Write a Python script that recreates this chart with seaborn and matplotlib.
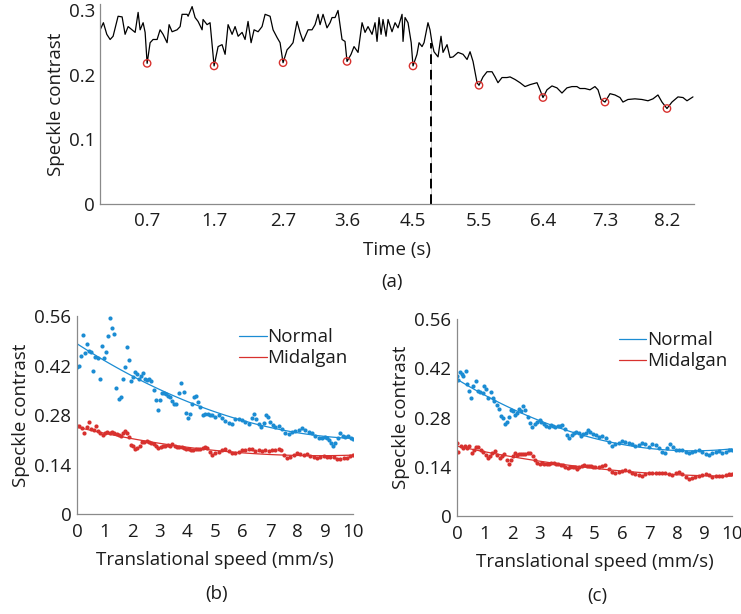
import matplotlib
matplotlib.use("Agg")
import matplotlib.pyplot as plt
import seaborn as sns
import pandas as pd

# ---------------- data: panel (a) ----------------
time_s = [0.022,0.069,0.118,0.166,0.209,0.281,0.339,0.382,0.426,0.483,
          0.527,0.570,0.599,0.642,0.671,0.700,0.743,0.786,0.844,0.887,
          0.930,0.988,1.017,1.060,1.132,1.176,1.204,1.277,1.291,1.349,
          1.392,1.435,1.493,1.507,1.565,1.608,1.666,1.724,1.781,1.825,
          1.868,1.926,1.969,2.013,2.070,2.113,2.156,2.200,2.243,2.301,
          2.358,2.402,2.474,2.517,2.575,2.618,2.661,2.719,2.762,2.805,
          2.863,2.906,2.950,3.022,3.079,3.123,3.166,3.195,3.238,3.295,
          3.339,3.368,3.411,3.454,3.512,3.555,3.584,3.642,3.685,3.743,
          3.801,3.844,3.887,3.945,3.988,4.017,4.046,4.075,4.103,4.147,
          4.176,4.233,4.277,4.320,4.378,4.392,4.421,4.464,4.510,4.536,
          4.593,4.623,4.666,4.695,4.752,4.781,4.810,4.839,4.897,4.940,
          4.969,5.027,5.070,5.114,5.186,5.258,5.316,5.359,5.402,5.460,
          5.488,5.546,5.604,5.676,5.719,5.762,5.820,5.892,5.936,6.008,
          6.080,6.152,6.224,6.325,6.368,6.411,6.469,6.541,6.613,6.685,
          6.757,6.829,6.901,6.945,7.017,7.089,7.161,7.205,7.248,7.306,
          7.378,7.450,7.522,7.565,7.637,7.738,7.839,7.926,7.998,8.070,
          8.128,8.200,8.272,8.359,8.431,8.489,8.532,8.575]
contrast_a = [0.270,0.281,0.263,0.255,0.260,0.291,0.290,0.263,0.275,0.270,
              0.266,0.297,0.270,0.281,0.266,0.218,0.250,0.255,0.255,0.270,
              0.263,0.250,0.278,0.267,0.270,0.275,0.294,0.294,0.291,0.306,
              0.289,0.283,0.270,0.286,0.278,0.281,0.214,0.244,0.247,0.232,
              0.278,0.263,0.275,0.260,0.266,0.255,0.283,0.250,0.270,0.267,
              0.275,0.294,0.291,0.270,0.258,0.250,0.219,0.239,0.244,0.250,
              0.283,0.266,0.252,0.270,0.270,0.278,0.294,0.278,0.294,0.273,
              0.281,0.289,0.289,0.300,0.255,0.252,0.221,0.232,0.244,0.235,
              0.281,0.266,0.275,0.263,0.281,0.252,0.289,0.263,0.286,0.260,
              0.286,0.267,0.281,0.273,0.294,0.252,0.289,0.281,0.250,0.214,
              0.232,0.250,0.244,0.250,0.281,0.270,0.250,0.236,0.228,0.260,
              0.235,0.247,0.227,0.228,0.235,0.232,0.224,0.236,0.221,0.188,
              0.184,0.197,0.205,0.205,0.197,0.188,0.196,0.196,0.197,0.193,
              0.188,0.182,0.185,0.188,0.177,0.165,0.177,0.183,0.180,0.172,
              0.180,0.182,0.182,0.179,0.179,0.177,0.182,0.177,0.162,0.158,
              0.171,0.169,0.165,0.158,0.162,0.163,0.162,0.160,0.163,0.169,
              0.158,0.148,0.158,0.166,0.165,0.160,0.163,0.166]
minima_t = [0.700, 1.666, 2.661, 3.584, 4.536, 5.488, 6.411, 7.306, 8.200]
minima_v = [0.218, 0.214, 0.219, 0.221, 0.214, 0.184, 0.165, 0.158, 0.148]
minima_labels = ["0.7", "1.7", "2.7", "3.6", "4.5", "5.5", "6.4", "7.3", "8.2"]
dash_t = 4.796
dash_top = 0.25
yticks_a = [0, 0.1, 0.2, 0.3]
yticklabels_a = ["0", "0.1", "0.2", "0.3"]

# ---------------- data: panel (b) ----------------
b_normal_x = [0.00,0.06,0.145,0.22,0.28,0.37,0.45,0.52,0.59,0.66,
              0.75,0.83,0.91,0.98,1.05,1.12,1.20,1.28,1.35,1.42,
              1.51,1.58,1.66,1.74,1.81,1.88,1.96,2.04,2.11,2.18,
              2.26,2.33,2.40,2.47,2.55,2.62,2.69,2.79,2.86,2.93,
              3.02,3.09,3.16,3.24,3.31,3.38,3.45,3.53,3.60,3.68,
              3.78,3.87,3.94,4.02,4.09,4.17,4.24,4.31,4.38,4.47,
              4.55,4.65,4.75,4.83,
              4.89,5.01,5.13,5.25,5.37,5.50,5.62,5.74,5.86,5.98,
              6.10,6.22,6.34,6.42,6.49,6.58,6.68,6.76,6.85,6.92,
              7.00,7.10,7.18,7.31,7.43,7.55,7.67,7.79,7.91,8.03,
              8.15,8.27,8.40,8.51,8.64,8.76,8.88,8.97,9.06,9.14,
              9.21,9.29,9.36,9.45,9.53,9.63,9.72,9.82,9.92,10.0]
b_normal_y = [0.417,0.419,0.448,0.505,0.454,0.480,0.461,0.459,0.405,0.443,
              0.442,0.381,0.475,0.440,0.457,0.503,0.553,0.526,0.510,0.357,
              0.325,0.330,0.381,0.415,0.473,0.435,0.377,0.388,0.402,0.396,
              0.383,0.390,0.398,0.381,0.379,0.381,0.377,0.350,0.323,0.295,
              0.323,0.343,0.341,0.339,0.334,0.331,0.320,0.312,0.311,0.341,
              0.370,0.345,0.287,0.271,0.282,0.311,0.331,0.335,0.316,0.304,
              0.279,0.284,0.283,0.280,
              0.280,0.275,0.280,0.271,0.264,0.258,0.254,0.268,0.269,0.266,
              0.260,0.255,0.272,0.282,0.268,0.254,0.247,0.256,0.280,0.275,
              0.261,0.252,0.247,0.249,0.240,0.228,0.226,0.233,0.236,0.238,
              0.242,0.238,0.233,0.228,0.221,0.214,0.214,0.219,0.216,0.209,
              0.200,0.191,0.202,0.214,0.230,0.221,0.217,0.221,0.214,0.211]
b_midalgan_x = [0.00,0.08,0.18,0.27,0.36,0.45,0.52,0.60,0.68,0.76,
                0.84,0.93,1.01,1.10,1.18,1.27,1.35,1.44,1.52,1.59,
                1.67,1.74,1.81,1.88,1.96,2.04,2.11,2.18,2.27,2.36,
                2.44,2.53,2.61,2.69,2.78,2.86,2.95,3.03,3.12,3.20,
                3.29,3.37,3.45,3.54,3.62,3.71,3.79,3.88,3.96,4.05,
                4.13,4.21,4.30,4.38,4.47,4.55,4.64,4.72,4.81,
                4.89,5.01,5.13,5.25,5.37,5.50,5.62,5.74,5.86,5.98,
                6.10,6.22,6.34,6.46,6.58,6.70,6.82,6.94,7.07,7.18,
                7.31,7.40,7.49,7.61,7.73,7.85,7.97,8.09,8.21,8.33,
                8.45,8.58,8.70,8.82,8.94,9.06,9.18,9.30,9.42,9.54,
                9.66,9.78,9.90,10.0]
b_midalgan_y = [0.249,0.249,0.243,0.230,0.245,0.261,0.240,0.238,0.250,0.234,
                0.228,0.223,0.230,0.231,0.228,0.233,0.230,0.225,0.224,0.221,
                0.228,0.236,0.230,0.219,0.195,0.191,0.183,0.186,0.193,0.204,
                0.204,0.206,0.204,0.200,0.197,0.192,0.187,0.190,0.193,0.193,
                0.195,0.193,0.197,0.193,0.190,0.190,0.189,0.187,0.184,0.184,
                0.182,0.182,0.184,0.183,0.184,0.187,0.189,0.186,0.175,
                0.167,0.172,0.176,0.181,0.183,0.179,0.173,0.172,0.176,0.181,
                0.181,0.183,0.183,0.179,0.181,0.179,0.181,0.178,0.181,0.181,
                0.184,0.181,0.167,0.158,0.160,0.167,0.172,0.170,0.167,0.170,
                0.164,0.160,0.159,0.162,0.164,0.160,0.162,0.160,0.156,0.155,
                0.158,0.159,0.164,0.167]

# ---------------- data: panel (c) ----------------
c_normal_x = [0.00,0.05,0.11,0.17,0.23,0.31,0.38,0.45,0.51,0.59,
              0.68,0.75,0.84,0.93,0.98,1.06,1.14,1.23,1.30,1.36,
              1.45,1.53,1.60,1.69,1.75,1.82,1.90,1.97,2.04,2.11,
              2.18,2.26,2.33,2.40,2.48,2.57,2.66,2.74,2.82,2.91,
              3.00,3.07,3.15,3.23,3.33,3.41,3.49,3.57,3.66,3.74,
              3.83,3.91,4.00,4.08,4.17,4.25,4.34,4.42,4.51,4.59,
              4.68,4.76,4.85,4.94,
              5.04,5.16,5.28,5.40,5.52,5.64,5.76,5.88,6.00,6.12,
              6.25,6.37,6.49,6.61,6.73,6.85,6.97,7.10,7.22,7.34,
              7.46,7.56,7.65,7.76,7.86,7.95,8.07,8.19,8.31,8.43,
              8.55,8.67,8.80,8.92,9.04,9.16,9.28,9.40,9.53,9.65,
              9.77,9.89,10.0]
c_normal_y = [0.398,0.387,0.408,0.403,0.398,0.413,0.376,0.356,0.336,0.370,
              0.384,0.356,0.352,0.349,0.370,0.362,0.335,0.352,0.335,0.328,
              0.316,0.304,0.284,0.278,0.261,0.267,0.282,0.301,0.298,0.287,
              0.294,0.303,0.298,0.313,0.301,0.281,0.265,0.254,0.261,0.268,
              0.273,0.268,0.261,0.256,0.254,0.259,0.257,0.254,0.256,0.257,
              0.259,0.246,0.230,0.221,0.230,0.237,0.240,0.237,0.227,0.233,
              0.235,0.244,0.240,0.233,
              0.230,0.224,0.227,0.221,0.211,0.199,0.204,0.208,0.214,0.211,
              0.208,0.204,0.199,0.202,0.208,0.204,0.197,0.206,0.202,0.192,
              0.182,0.178,0.192,0.204,0.197,0.187,0.189,0.187,0.182,0.180,
              0.182,0.185,0.189,0.182,0.176,0.173,0.178,0.182,0.185,0.180,
              0.182,0.189,0.187]
c_midalgan_x = [0.00,0.05,0.13,0.21,0.29,0.38,0.45,0.54,0.61,0.70,
                0.78,0.86,0.95,1.04,1.12,1.20,1.29,1.37,1.46,1.55,
                1.63,1.71,1.80,1.88,1.95,2.02,2.10,2.17,2.24,2.32,
                2.41,2.49,2.57,2.66,2.75,2.83,2.92,3.00,3.09,3.17,
                3.26,3.34,3.43,3.51,3.60,3.68,3.77,3.85,3.94,4.03,
                4.11,4.20,4.28,4.36,4.45,4.54,4.62,4.71,4.79,4.88,
                4.96,
                5.03,5.15,5.27,5.39,5.52,5.64,5.76,5.88,6.00,6.12,
                6.25,6.37,6.49,6.61,6.73,6.85,6.97,7.10,7.22,7.34,
                7.46,7.58,7.70,7.82,7.95,8.07,8.19,8.31,8.43,8.55,
                8.67,8.80,8.92,9.04,9.16,9.28,9.40,9.53,9.65,9.77,
                9.89,10.0]
c_midalgan_y = [0.208,0.182,0.199,0.192,0.199,0.192,0.199,0.180,0.187,0.195,
                0.197,0.187,0.182,0.173,0.166,0.170,0.180,0.185,0.173,0.166,
                0.170,0.176,0.159,0.149,0.159,0.170,0.178,0.173,0.176,0.176,
                0.176,0.176,0.178,0.180,0.170,0.159,0.151,0.149,0.151,0.147,
                0.149,0.147,0.151,0.151,0.149,0.147,0.145,0.144,0.140,0.137,
                0.140,0.138,0.138,0.134,0.138,0.142,0.144,0.143,0.142,0.141,
                0.140,
                0.140,0.140,0.142,0.145,0.135,0.125,0.122,0.125,0.128,0.130,
                0.127,0.123,0.119,0.116,0.113,0.119,0.121,0.121,0.123,0.121,
                0.123,0.121,0.119,0.116,0.121,0.125,0.119,0.111,0.104,0.107,
                0.111,0.113,0.116,0.119,0.116,0.111,0.113,0.115,0.113,0.116,
                0.119,0.119]
xticks_bc = list(range(0, 11))
yticks_bc = [0, 0.14, 0.28, 0.42, 0.56]
yticklabels_bc = ["0", "0.14", "0.28", "0.42", "0.56"]
series_names = ["Normal", "Midalgan"]

# ---------------- styling ----------------
BLUE = "#1b8cd3"
RED = "#d8312e"
SPINE = "#8a8a8a"
TEXT = "#1c1c1c"
FS = 13.5

sns.set_theme(style="white")
plt.rcParams["font.family"] = ["Open Sans", "DejaVu Sans"]

W, H = 741, 614
fig = plt.figure(figsize=(W / 100, H / 100), dpi=100)
ax_a = fig.add_axes([100 / W, 1 - 204 / H, 594 / W, 200 / H])
ax_b = fig.add_axes([77 / W, 1 - 514 / H, 276 / W, 198 / H])
ax_c = fig.add_axes([457 / W, 1 - 516 / H, 275 / W, 197 / H])


def style(ax, xpad, ypad):
    sns.despine(ax=ax)
    for s in ("left", "bottom"):
        ax.spines[s].set_color(SPINE)
        ax.spines[s].set_linewidth(0.9)
    ax.tick_params(axis="both", direction="in", length=4, width=0.8,
                   color=SPINE, labelcolor=TEXT, labelsize=FS)
    ax.tick_params(axis="x", pad=xpad)
    ax.tick_params(axis="y", pad=ypad)
    ax.xaxis.label.set_color(TEXT)
    ax.yaxis.label.set_color(TEXT)


# ---- panel (a)
df_a = pd.DataFrame({"t": time_s, "v": contrast_a})
sns.lineplot(data=df_a, x="t", y="v", color="black", linewidth=0.9,
             estimator=None, sort=False, ax=ax_a)
ax_a.vlines(dash_t, 0, dash_top, colors="black", linestyles=(0, (5, 3)),
            linewidth=1.4, zorder=1)
ax_a.vlines(dash_t, 0, dash_top, colors="#bbbbbb", linewidth=0.6, zorder=0)
sns.scatterplot(x=minima_t, y=minima_v, marker="o", s=28,
                facecolors="none", edgecolor=RED, linewidth=1.0,
                ax=ax_a, zorder=3)
ax_a.set_xlim(0.02, 8.59)
ax_a.set_ylim(0, 0.31)
ax_a.set_xticks(minima_t)
ax_a.set_xticklabels(minima_labels)
ax_a.set_yticks(yticks_a)
ax_a.set_yticklabels(yticklabels_a)
ax_a.set_xlabel("Time (s)", fontsize=FS, labelpad=8)
ax_a.set_ylabel("Speckle contrast", fontsize=FS, labelpad=3)
style(ax_a, 6, 3.5)


# ---- panels (b), (c)
def panel(ax, nx, ny, mx, my, legend_anchor):
    sns.regplot(x=nx, y=ny, order=2, ci=None, color=BLUE, ax=ax,
                scatter_kws=dict(s=9, linewidths=0, alpha=1),
                line_kws=dict(linewidth=0.9, label=series_names[0]))
    sns.regplot(x=mx, y=my, order=2, ci=None, color=RED, ax=ax,
                scatter_kws=dict(s=9, linewidths=0, alpha=1),
                line_kws=dict(linewidth=0.9, label=series_names[1]))
    ax.set_xlim(0, 10)
    ax.set_ylim(0, 0.56)
    ax.set_xticks(xticks_bc)
    ax.set_yticks(yticks_bc)
    ax.set_yticklabels(yticklabels_bc)
    ax.set_xlabel("Translational speed (mm/s)", fontsize=FS, labelpad=7)
    ax.set_ylabel("Speckle contrast", fontsize=FS, labelpad=3)
    style(ax, 6.5, 4)
    leg = ax.legend(loc="upper right", bbox_to_anchor=legend_anchor,
                    frameon=False, fontsize=FS, handlelength=1.45,
                    handletextpad=0.05, labelspacing=0.15, borderaxespad=0)
    for t in leg.get_texts():
        t.set_color(TEXT)


panel(ax_b, b_normal_x, b_normal_y, b_midalgan_x, b_midalgan_y, (1.008, 0.975))
panel(ax_c, c_normal_x, c_normal_y, c_midalgan_x, c_midalgan_y, (1.01, 0.975))

fig.text(392 / W, 1 - 282 / H, "(a)", ha="center", va="center",
         fontsize=FS, color=TEXT)
fig.text(217 / W, 1 - 594 / H, "(b)", ha="center", va="center",
         fontsize=FS, color=TEXT)
fig.text(597 / W, 1 - 596 / H, "(c)", ha="center", va="center",
         fontsize=FS, color=TEXT)

fig.savefig("out.png", dpi=100)
